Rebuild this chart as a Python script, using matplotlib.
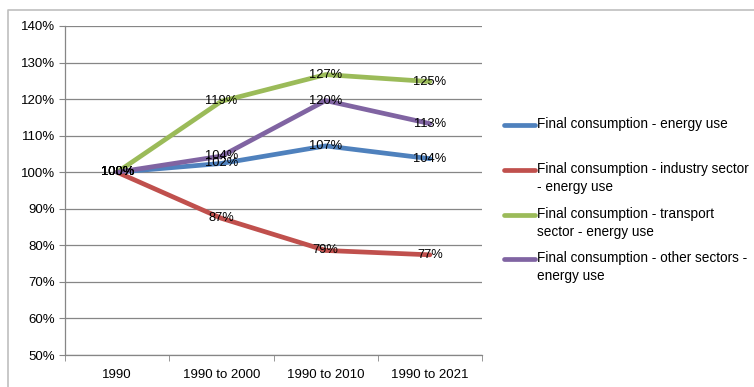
import matplotlib
matplotlib.use("Agg")
import matplotlib.pyplot as plt
from matplotlib.lines import Line2D
from matplotlib.ticker import FixedLocator

categories = ["1990", "1990 to 2000", "1990 to 2010", "1990 to 2021"]
total_use = [100, 102.4, 107.2, 103.7]
industry_use = [100, 87.4, 78.6, 77.4]
transport_use = [100, 119.4, 126.7, 124.8]
other_use = [100, 104.4, 119.6, 113.3]
series_names = [
    "Final consumption - energy use",
    "Final consumption - industry sector\n- energy use",
    "Final consumption - transport\nsector - energy use",
    "Final consumption - other sectors -\nenergy use",
]
y_ticks = [50, 60, 70, 80, 90, 100, 110, 120, 130, 140]

colours = ["#4F81BD", "#C0504D", "#9BBB59", "#8064A2"]
plt.rcParams['font.family'] = ['Liberation Sans', 'DejaVu Sans']

fig = plt.figure(figsize=(7.54, 3.87), dpi=100)
ax = fig.add_axes([65 / 754, 1 - 355 / 387, 417 / 754, 329 / 387])

x = list(range(len(categories)))
all_series = [total_use, industry_use, transport_use, other_use]
for vals, col in zip(all_series, colours):
    ax.plot(x, vals, color=col, lw=3.4, solid_capstyle="round", zorder=3)
for vals in all_series:
    for xi, v in zip(x, vals):
        ax.text(xi, v, "%d%%" % round(v), ha="center", va="center",
                fontsize=9.3, color="black", zorder=4)

ax.set_xlim(-0.5, 3.5)
ax.set_ylim(50, 140)
ax.set_yticks(y_ticks)
ax.set_yticklabels(["%d%%" % t for t in y_ticks], fontsize=9.5)
ax.set_xticks(x)
ax.set_xticklabels(categories, fontsize=9.5)
ax.xaxis.set_minor_locator(FixedLocator([-0.5, 0.5, 1.5, 2.5, 3.5]))
ax.tick_params(axis="x", which="major", length=0, pad=10)
ax.tick_params(axis="x", which="minor", length=4, color="#868686")
ax.tick_params(axis="y", length=4, color="#868686", pad=3)
ax.yaxis.grid(True, color="#868686", lw=0.9)
ax.set_axisbelow(True)
for s in ["top", "right"]:
    ax.spines[s].set_visible(False)
for s in ["left", "bottom"]:
    ax.spines[s].set_color("#868686")
    ax.spines[s].set_linewidth(0.9)

# legend drawn by hand so the handles sit on the first text line
legend_y = [125, 170, 215, 259]
for name, col, ly in zip(series_names, colours, legend_y):
    yf = 1 - ly / 387
    fig.add_artist(Line2D([504 / 754, 535 / 754], [yf, yf], color=col, lw=3.4,
                          solid_capstyle="round", transform=fig.transFigure))
    fig.text(537 / 754, yf + 8 / 387, name, ha="left", va="top", fontsize=9.8,
             linespacing=1.35)

# outer chart border
fig.add_artist(Line2D([8 / 754, 8 / 754, 1], [0, 1 - 10 / 387, 1 - 10 / 387],
                      color="#BFBFBF", lw=1.2, transform=fig.transFigure))

fig.savefig("out.png", dpi=100)
